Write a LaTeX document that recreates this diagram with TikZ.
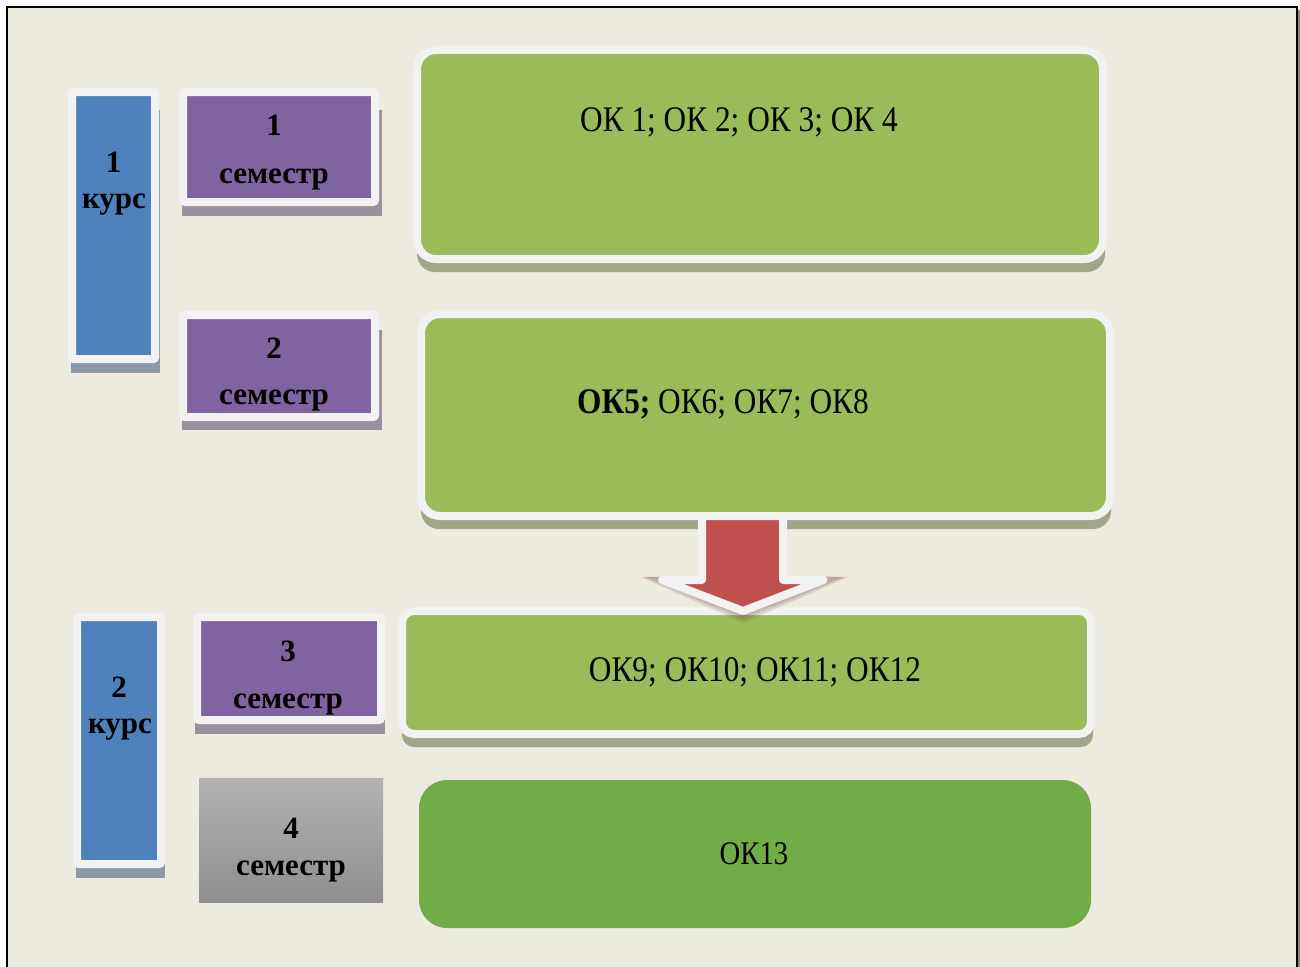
\documentclass[tikz,border=0pt]{standalone}
\usepackage{fontspec}
\setmainfont{Liberation Serif}
\newfontfamily\okfont[FakeStretch=0.87]{Liberation Serif}
\usetikzlibrary{calc}
\definecolor{bgc}{HTML}{EDEAE0}
\definecolor{ringc}{HTML}{F2F2F2}
\definecolor{bluec}{HTML}{4F81BD}
\definecolor{purplec}{HTML}{8064A2}
\definecolor{greenc}{HTML}{9BBB59}
\definecolor{darkgreenc}{HTML}{70AD47}
\definecolor{redc}{HTML}{C0504D}
\definecolor{blueshc}{HTML}{8D99A6}
\definecolor{purpleshc}{HTML}{9A909E}
\definecolor{greenshc}{HTML}{A0A686}
\definecolor{frameshc}{HTML}{8A8A80}
\begin{document}
\begin{tikzpicture}[x=1pt,y=-1pt,
  ringbox/.style={draw=ringc, line width=8pt, rounded corners=2pt, inner sep=0pt, outer sep=0pt},
  bluebox/.style={ringbox, fill=bluec},
  purplebox/.style={ringbox, fill=purplec},
  greenbox/.style={ringbox, fill=greenc},
  lbl/.style={anchor=base, inner sep=0pt, font=\fontsize{31}{36}\selectfont\bfseries},
  oktext/.style={anchor=base, inner sep=0pt, font=\okfont\fontsize{36}{40}\selectfont},
  arrowsh/.style={fill=black!50!redc, opacity=0.13},
]
\useasboundingbox (0,0) rectangle (1300,966);
\fill[white] (0,0) rectangle (1300,966);
\fill[bgc] (7,7) rectangle (1297,980);
\fill[frameshc] (1298,10) rectangle (1300,980);
\draw[black, line width=2.2pt] (7,980) -- (7,7) -- (1297,7) -- (1297,980);

% shadows
\fill[blueshc] (71,110) rectangle (160,373);
\fill[blueshc] (76,640) rectangle (165,878);
\fill[purpleshc] (182,110) rectangle (382,216);
\fill[purpleshc] (182,330) rectangle (382,430);
\fill[purpleshc] (195,640) rectangle (385,734);
\fill[greenshc, rounded corners=18pt] (417,70) rectangle (1105,272);
\fill[greenshc, rounded corners=18pt] (421,335) rectangle (1111,529);
\fill[greenshc, rounded corners=12pt] (402,630) rectangle (1093,747);

% course boxes
\node[bluebox, minimum width=83pt, minimum height=267pt] (k1) at (113.5,225.5) {};
\node[bluebox, minimum width=84pt, minimum height=247pt] (k2) at (119,740.5) {};

% semester boxes
\node[purplebox, minimum width=192pt, minimum height=110pt] (s1) at (279,147) {};
\node[purplebox, minimum width=192pt, minimum height=102pt] (s2) at (279,366) {};
\node[purplebox, minimum width=184pt, minimum height=103pt] (s3) at (289,668.5) {};
\node[inner sep=0pt, outer sep=0pt, minimum width=184pt, minimum height=124pt,
      top color=black!30, bottom color=black!44] (s4) at (291,840) {};

% content boxes
\node[greenbox, rounded corners=19pt, minimum width=686pt, minimum height=209pt] (g1) at (760,154.5) {};
\node[greenbox, rounded corners=19pt, minimum width=689pt, minimum height=202pt] (g2) at (765.5,415) {};
\node[greenbox, rounded corners=12pt, minimum width=689pt, minimum height=123pt] (g3) at (746.5,672.5) {};
\node[fill=darkgreenc, rounded corners=28pt, inner sep=0pt, outer sep=0pt,
      minimum width=672pt, minimum height=148pt] (g4) at (755,854) {};

% labels
\node[lbl] (k1a) at (113.5,172) {1};
\node[lbl] (k1b) at (114,208) {курс};
\node[lbl] (k2a) at (119,697) {2};
\node[lbl] (k2b) at (120,733) {курс};
\node[lbl] (s1a) at (274,135) {1};
\node[lbl] (s1b) at (274,183) {семестр};
\node[lbl] (s2a) at (274,358) {2};
\node[lbl] (s2b) at (274,404) {семестр};
\node[lbl] (s3a) at (288,661) {3};
\node[lbl] (s3b) at (288,708) {семестр};
\node[lbl] (s4a) at (291,838) {4};
\node[lbl] (s4b) at (291,875) {семестр};

\node[oktext] (t1) at (739,131) {ОК 1; ОК 2; ОК 3; ОК 4};
\node[oktext, anchor=base west] (t2) at (577,413) {\textbf{ОК5;} ОК6; ОК7; ОК8};
\node[oktext] (t3) at (755,681) {ОК9; ОК10; ОК11; ОК12};
\node[oktext, font=\okfont\fontsize{33}{38}\selectfont] (t4) at (754,864) {ОК13};

% block arrow from g2 to g3
\coordinate (atop) at (742.5,516);
\coordinate (atip) at (743,611);
\foreach \d in {0,3,6} {
  \fill[arrowsh]
    ($(atop)+(-44,60)$) -- ($(atop)+(-96-\d,61)$) -- ($(atip)+(0,6+\d)$) -- ($(atop)+(100+\d,61)$) -- ($(atop)+(44,60)$) -- cycle;
}
\draw[fill=redc, draw=ringc, line width=8pt, line join=round]
  (atop) -- ++(-40.5,0) -- ++(0,64) -- ++(-40,0) -- (atip) -- ($(atop)+(81,64)$) -- ++(-40.5,0) -- ++(0,-64) -- cycle;
\end{tikzpicture}
\end{document}
